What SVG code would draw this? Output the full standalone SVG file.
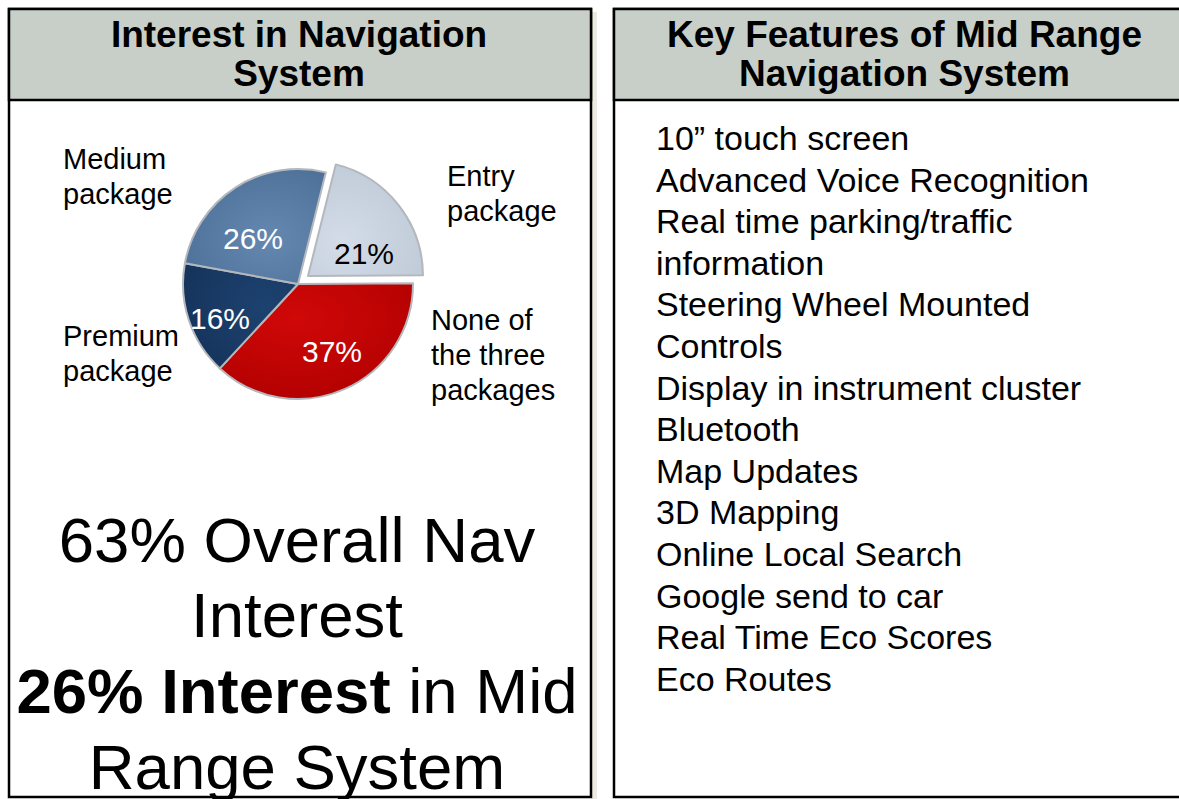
<svg xmlns="http://www.w3.org/2000/svg" width="1179" height="799" viewBox="0 0 1179 799">
<style>
text{font-family:"Liberation Sans",Arial,sans-serif;fill:#000}
.hdr{font-size:37px;font-weight:bold;text-anchor:middle}
.lbl{font-size:29px}
.pct{font-size:30px;text-anchor:middle}
.feat{font-size:34px}
.big{font-size:63.5px;text-anchor:middle}
.box{fill:#fff;stroke:#000;stroke-width:2.5}
.head{fill:#c8cfc8;stroke:#000;stroke-width:2.5}
.sl{stroke:#b4b8bd;stroke-width:2;stroke-linejoin:round}
</style>
<defs>
<radialGradient id="gMed" cx="0.6" cy="0.6" r="0.7"><stop offset="0" stop-color="#6588b0"/><stop offset="1" stop-color="#4d7099"/></radialGradient>
<radialGradient id="gDark" cx="0.7" cy="0.4" r="0.8"><stop offset="0" stop-color="#1d4270"/><stop offset="1" stop-color="#15335a"/></radialGradient>
<radialGradient id="gRed" cx="0.4" cy="0.3" r="0.8"><stop offset="0" stop-color="#d00808"/><stop offset="1" stop-color="#b00000"/></radialGradient>
<radialGradient id="gEntry" cx="0.3" cy="0.7" r="0.8"><stop offset="0" stop-color="#d3dce7"/><stop offset="1" stop-color="#bfcad8"/></radialGradient>
</defs>
<rect x="0" y="0" width="1179" height="799" fill="#fff"/>
<rect x="592" y="12" width="5" height="787" fill="#ecebe0"/>
<g id="left-panel">
<rect class="box" x="9" y="9" width="582" height="788"/>
<rect class="head" x="9" y="9" width="582" height="91"/>
<text class="hdr" x="299" y="47">Interest in Navigation</text>
<text class="hdr" x="299" y="86">System</text>
</g>
<g id="right-panel">
<rect class="box" x="614" y="9" width="580" height="788"/>
<rect class="head" x="614" y="9" width="580" height="91"/>
<text class="hdr" x="904.5" y="47">Key Features of Mid Range</text>
<text class="hdr" x="904.5" y="86">Navigation System</text>
</g>
<g id="pie">
<path class="sl" fill="url(#gRed)" d="M298,284 L413,283.2 A115,115 0 0,1 219.9,368.4 Z"/>
<path class="sl" fill="url(#gDark)" d="M298,284 L219.9,368.4 A115,115 0 0,1 184.9,263.2 Z"/>
<path class="sl" fill="url(#gMed)" d="M298,284 L184.9,263.2 A115,115 0 0,1 325.8,172.4 Z"/>
<path class="sl" fill="url(#gEntry)" d="M308,276 L335.8,164.4 A115,115 0 0,1 423,275.2 Z"/>
<text class="pct" x="253" y="249" style="fill:#fff">26%</text>
<text class="pct" x="364" y="264">21%</text>
<text class="pct" x="220" y="329" style="fill:#fff">16%</text>
<text class="pct" x="332" y="362" style="fill:#fff">37%</text>
</g>
<g id="pie-labels">
<text class="lbl" x="63" y="169">Medium</text>
<text class="lbl" x="63" y="204">package</text>
<text class="lbl" x="447" y="186">Entry</text>
<text class="lbl" x="447" y="221">package</text>
<text class="lbl" x="63" y="346">Premium</text>
<text class="lbl" x="63" y="381">package</text>
<text class="lbl" x="431" y="330">None of</text>
<text class="lbl" x="431" y="365">the three</text>
<text class="lbl" x="431" y="400">packages</text>
</g>
<g id="summary">
<text class="big" x="297" y="562">63% Overall Nav</text>
<text class="big" x="297" y="637">Interest</text>
<text class="big" x="297" y="713"><tspan font-weight="bold">26% Interest</tspan> in Mid</text>
<text class="big" x="297" y="789">Range System</text>
</g>
<g id="features">
<text class="feat" x="656" y="150">10” touch screen</text>
<text class="feat" x="656" y="191.6">Advanced Voice Recognition</text>
<text class="feat" x="656" y="233.2">Real time parking/traffic</text>
<text class="feat" x="656" y="274.8">information</text>
<text class="feat" x="656" y="316.4">Steering Wheel Mounted</text>
<text class="feat" x="656" y="358">Controls</text>
<text class="feat" x="656" y="399.6">Display in instrument cluster</text>
<text class="feat" x="656" y="441.2">Bluetooth</text>
<text class="feat" x="656" y="482.8">Map Updates</text>
<text class="feat" x="656" y="524.4">3D Mapping</text>
<text class="feat" x="656" y="566">Online Local Search</text>
<text class="feat" x="656" y="607.6">Google send to car</text>
<text class="feat" x="656" y="649.2">Real Time Eco Scores</text>
<text class="feat" x="656" y="690.8">Eco Routes</text>
</g>
</svg>
